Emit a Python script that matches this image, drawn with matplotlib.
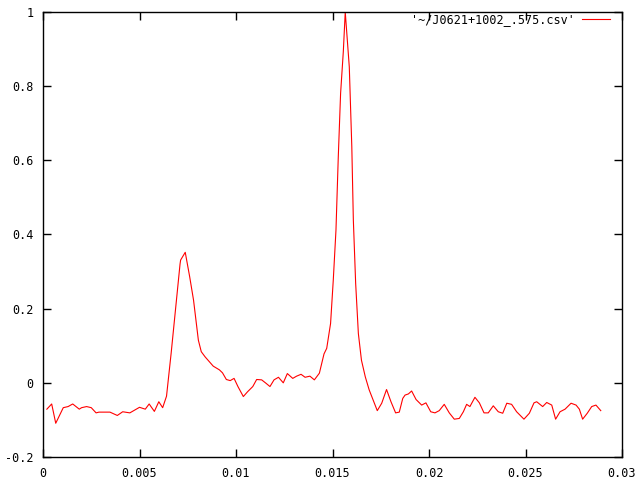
import matplotlib
matplotlib.use("Agg")
import matplotlib.pyplot as plt

x_vals = [0.0002, 0.00045, 0.00066, 0.00105, 0.0013, 0.00154, 0.00188, 0.0020, 0.00226, 0.0025,
          0.00275, 0.0029, 0.00347, 0.0036, 0.00385, 0.00413, 0.0045, 0.0050, 0.0053, 0.0055,
          0.00577, 0.0060, 0.0062, 0.0064, 0.00654, 0.00664, 0.0071, 0.00713, 0.00737, 0.0076,
          0.0078, 0.00805, 0.0082, 0.0084, 0.00862, 0.00882, 0.00914, 0.0093, 0.0095, 0.0097,
          0.0099, 0.0101, 0.01038, 0.0106, 0.01087, 0.01107, 0.01133, 0.01155, 0.01176, 0.01197,
          0.0122, 0.01245, 0.01266, 0.01294, 0.01314, 0.01337, 0.01358, 0.01383, 0.01406, 0.01432,
          0.01456, 0.0147, 0.0149, 0.01504, 0.01518, 0.0153, 0.01542, 0.01556, 0.01566, 0.01587,
          0.0160, 0.01608, 0.0162, 0.01634, 0.0165, 0.0167, 0.0169, 0.0171, 0.01732, 0.01755,
          0.0178, 0.01803, 0.01827, 0.01846, 0.01864, 0.01876, 0.01893, 0.0191, 0.01933, 0.01962,
          0.01984, 0.02009, 0.02031, 0.02053, 0.02079, 0.02105, 0.02131, 0.02157, 0.02178, 0.02195,
          0.02212, 0.02238, 0.02261, 0.02285, 0.02307, 0.02333, 0.02359, 0.02382, 0.02403, 0.02428,
          0.02454, 0.02492, 0.0252, 0.02544, 0.02558, 0.02589, 0.0261, 0.02636, 0.02656, 0.02679,
          0.02705, 0.02736, 0.02762, 0.02779, 0.02796, 0.0282, 0.02843, 0.02865, 0.0289]
y_vals = [-0.071, -0.057, -0.109, -0.067, -0.064, -0.057, -0.071, -0.067, -0.064, -0.067,
          -0.081, -0.079, -0.079, -0.082, -0.088, -0.078, -0.081, -0.066, -0.071, -0.057,
          -0.077, -0.051, -0.067, -0.036, 0.031, 0.080, 0.320, 0.331, 0.352, 0.286,
          0.223, 0.115, 0.084, 0.070, 0.057, 0.045, 0.035, 0.027, 0.009, 0.006,
          0.012, -0.010, -0.037, -0.024, -0.010, 0.009, 0.008, -0.001, -0.010, 0.008,
          0.015, 0.000, 0.025, 0.012, 0.018, 0.023, 0.015, 0.018, 0.008, 0.026,
          0.078, 0.093, 0.160, 0.277, 0.412, 0.610, 0.781, 0.893, 1.000, 0.852,
          0.637, 0.439, 0.268, 0.133, 0.061, 0.016, -0.019, -0.046, -0.075, -0.055,
          -0.018, -0.051, -0.081, -0.079, -0.042, -0.033, -0.030, -0.022, -0.045, -0.060,
          -0.054, -0.078, -0.081, -0.075, -0.058, -0.081, -0.098, -0.096, -0.078, -0.058,
          -0.064, -0.039, -0.054, -0.081, -0.081, -0.062, -0.078, -0.082, -0.055, -0.058,
          -0.078, -0.098, -0.082, -0.054, -0.051, -0.064, -0.053, -0.060, -0.098, -0.078,
          -0.071, -0.055, -0.060, -0.071, -0.098, -0.082, -0.064, -0.060, -0.075]

x_ticks = [0, 0.005, 0.01, 0.015, 0.02, 0.025, 0.03]
x_tick_labels = ["0", "0.005", "0.01", "0.015", "0.02", "0.025", "0.03"]
y_ticks = [-0.2, 0, 0.2, 0.4, 0.6, 0.8, 1]
y_tick_labels = ["-0.2", "0", "0.2", "0.4", "0.6", "0.8", "1"]
series_label = "'~/J0621+1002_.575.csv'"

plt.rcParams['font.family'] = ['DejaVu Sans Mono']

fig = plt.figure(figsize=(6.4, 4.8), dpi=100)
ax = fig.add_axes([43/640, 23/480, 579/640, 445/480])
ax.plot(x_vals, y_vals, color='#ff0000', linewidth=0.8, label=series_label)
ax.set_xlim(0, 0.03)
ax.set_ylim(-0.2, 1)
ax.set_xticks(x_ticks)
ax.set_xticklabels(x_tick_labels)
ax.set_yticks(y_ticks)
ax.set_yticklabels(y_tick_labels)
ax.tick_params(direction='in', length=6, width=1, top=True, right=True, labelsize=8.5, pad=7, colors='black')
for s in ax.spines.values():
    s.set_linewidth(1.0)
    s.set_color('black')
leg = ax.legend(loc='upper right', bbox_to_anchor=(1 - 7/579, 1 + 4/445), frameon=False,
                markerfirst=False, fontsize=8.5, handlelength=2.4, handletextpad=0.6,
                borderaxespad=0.0)
fig.savefig("out.png", dpi=100)
